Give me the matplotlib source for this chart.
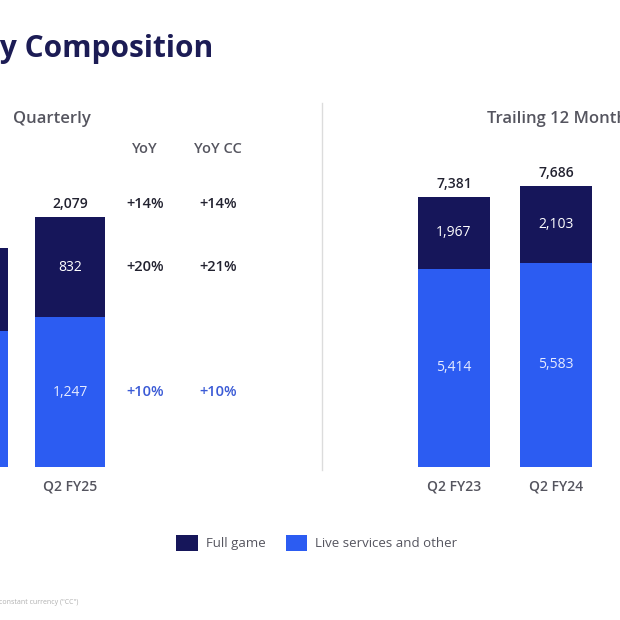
import matplotlib.pyplot as plt
import numpy as np

# Net bookings ($M)
q_periods = ['Q2 FY24', 'Q2 FY25']
q_full_game = [693, 832]
q_live = [1131, 1247]
q_yoy = ['+14%', '+20%', '+10%']
q_yoy_cc = ['+14%', '+21%', '+10%']

ttm_periods = ['Q2 FY23', 'Q2 FY24', 'Q2 FY25']
ttm_full_game = [1967, 2103, 2242]
ttm_live = [5414, 5583, 5699]

DARK = '#16165a'
BLUE = '#2c5cf2'
GRAY = '#55555f'
TXT = '#222230'
W, H = 620, 620

plt.rcParams['font.family'] = ['Open Sans', 'DejaVu Sans']
fig = plt.figure(figsize=(6.2, 6.2), dpi=100)
fig.patch.set_facecolor('white')


def px_axes(x0, x1, y_top, y_bot):
    # image pixel box -> figure fraction axes
    return fig.add_axes([x0 / W, 1 - y_bot / H, (x1 - x0) / W, (y_bot - y_top) / H])


def stacked(ax, periods, full, live, width):
    x = np.arange(len(periods))
    tot = np.array(full) + np.array(live)
    b_live = ax.bar(x, live, width, color=BLUE, zorder=2)
    b_full = ax.bar(x, full, width, bottom=live, color=DARK, zorder=2)
    for i in range(len(x)):
        ax.text(x[i], live[i] / 2, f'{live[i]:,}', ha='center', va='center',
                color='#e6ebff', fontsize=10)
        ax.text(x[i], live[i] + full[i] / 2, f'{full[i]:,}', ha='center', va='center',
                color='white', fontsize=10)
        ax.annotate(f'{tot[i]:,}', (x[i], tot[i]), xytext=(0, 4), textcoords='offset points',
                    ha='center', va='bottom', color=TXT, fontsize=10, fontweight='semibold')
        ax.annotate(periods[i], (x[i], 0), xytext=(0, -9), textcoords='offset points',
                    ha='center', va='top', color=GRAY, fontsize=10, fontweight='semibold')
    ax.axis('off')
    return b_full, b_live


# quarterly panel: bar spacing 97 px, current bar centered at x=70 px
ax1 = px_axes(0, 320, 100, 467)
ax1.set_xlim(1 - 70 / 97, 1 + 250 / 97)
ax1.set_ylim(0, sum([q_full_game[1], q_live[1]]) * 367 / 250)
h_full, h_live = stacked(ax1, q_periods, q_full_game, q_live, 70 / 97)

tot_now = q_full_game[1] + q_live[1]
rows_y = [tot_now + 105, q_live[1] + q_full_game[1] / 2, q_live[1] / 2]
row_col = [TXT, TXT, '#3b5bd6']
for cx, head, vals in [(1 + 75 / 97, 'YoY', q_yoy), (1 + 148 / 97, 'YoY CC', q_yoy_cc)]:
    ax1.text(cx, tot_now + 565, head, ha='center', va='center', color=GRAY,
             fontsize=10.5, fontweight='semibold')
    for v, yy, c in zip(vals, rows_y, row_col):
        ax1.text(cx, yy, v, ha='center', va='center', color=c, fontsize=10.5,
                 fontweight='semibold')
fig.text(52 / W, 1 - 119 / H, 'Quarterly', ha='center', va='center', color=GRAY,
         fontsize=12, fontweight='semibold')

# trailing twelve months panel: spacing 102 px, first bar at x=454 px
ax2 = px_axes(322, 620, 100, 467)
ax2.set_xlim(-(454 - 322) / 102, (620 - 454) / 102)
ax2.set_ylim(0, (ttm_full_game[0] + ttm_live[0]) * 367 / 270)
stacked(ax2, ttm_periods, ttm_full_game, ttm_live, 72 / 102)
fig.text(487 / W, 1 - 119 / H, 'Trailing 12 Months', ha='left', va='center', color=GRAY,
         fontsize=12, fontweight='semibold')

# divider
fig.add_artist(plt.Line2D([322 / W, 322 / W], [1 - 103 / H, 1 - 470 / H],
                          color='#dcdcdc', lw=1))

# title
fig.text(213 / W, 1 - 49 / H, 'Net Bookings by Composition', ha='right', va='center',
         color='#1c1c55', fontsize=21.5, fontweight='bold')

fig.legend([h_full, h_live], ['Full game', 'Live services and other'],
           loc='center', bbox_to_anchor=(317 / W, 1 - 543 / H), ncol=2, frameon=False,
           handlelength=1.6, handleheight=1.6, handletextpad=0.6, columnspacing=1.6,
           fontsize=9.5, labelcolor=GRAY)

fig.text(78 / W, 1 - 603 / H, 'YoY growth in constant currency ("CC")', ha='right',
         va='center', color='#b0b0b0', fontsize=5)

fig.savefig('out.png', dpi=100, facecolor='white')
